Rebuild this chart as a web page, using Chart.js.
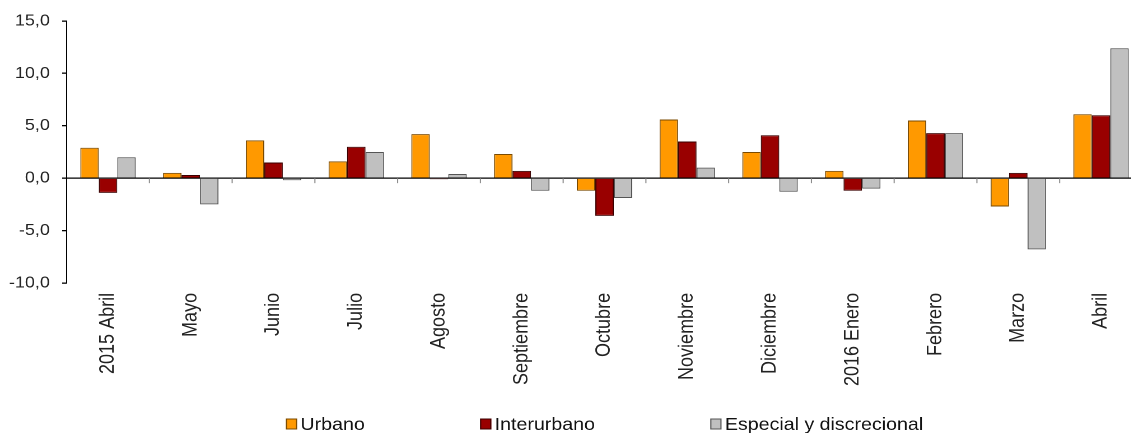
<!DOCTYPE html>
<html>
<head>
<meta charset="utf-8">
<script src="https://cdn.jsdelivr.net/npm/chart.js@4"></script>
<style>
  html, body { margin: 0; padding: 0; overflow: hidden; background: #fff; }
  #wrap { transform: scaleX(1.12); transform-origin: 0 0; width: 1020px; height: 433px; }
</style>
</head>
<body>
<div id="wrap"><canvas id="chart" width="1020" height="433"></canvas></div>
<script>
// meses (eje X)
const categories = ["2015 Abril", "Mayo", "Junio", "Julio", "Agosto", "Septiembre", "Octubre",
  "Noviembre", "Diciembre", "2016 Enero", "Febrero", "Marzo", "Abril"];

// variación por tipo de servicio
const urbano = [2.9, 0.5, 3.6, 1.6, 4.2, 2.3, -1.2, 5.6, 2.5, 0.7, 5.5, -2.7, 6.1];
const interurbano = [-1.4, 0.3, 1.5, 3.0, -0.1, 0.7, -3.6, 3.5, 4.1, -1.2, 4.3, 0.5, 6.0];
const especial = [2.0, -2.5, -0.2, 2.5, 0.4, -1.2, -1.9, 1.0, -1.3, -1.0, 4.3, -6.8, 12.4];

const yTicks = [-10, -5, 0, 5, 10, 15];

const FONT = "'Liberation Sans', Arial, sans-serif";

// marcas pequeñas entre categorías sobre la línea del cero
const zeroTicks = {
  id: "zeroTicks",
  afterDatasetsDraw(chart) {
    const x = chart.scales.x, y = chart.scales.y, ctx = chart.ctx;
    const y0 = y.getPixelForValue(0);
    ctx.save();
    ctx.strokeStyle = "#888";
    ctx.lineWidth = 1;
    for (let i = 0; i < categories.length - 1; i++) {
      const bx = (x.getPixelForValue(i) + x.getPixelForValue(i + 1)) / 2;
      ctx.beginPath();
      ctx.moveTo(bx, y0);
      ctx.lineTo(bx, y0 + 5);
      ctx.stroke();
    }
    ctx.restore();
  },
};

// leyenda dibujada a mano (espaciado amplio como en el original)
const bottomLegend = {
  id: "bottomLegend",
  afterDraw(chart) {
    const ctx = chart.ctx, area = chart.chartArea;
    const boxW = 10, boxH = 11, gap = 3, spacing = 103;
    ctx.save();
    ctx.font = "17.5px " + FONT;
    ctx.textBaseline = "middle";
    const items = chart.data.datasets.map((d) => ({
      text: d.label, fill: d.backgroundColor, stroke: d.borderColor,
      w: boxW + gap + ctx.measureText(d.label).width,
    }));
    const total = items.reduce((s, it) => s + it.w, 0) + spacing * (items.length - 1);
    let cx = (area.left + area.right) / 2 - total / 2;
    const cy = chart.height - 9;
    items.forEach((it) => {
      ctx.fillStyle = it.fill;
      ctx.fillRect(cx, cy - boxH / 2, boxW, boxH);
      ctx.strokeStyle = it.stroke;
      ctx.lineWidth = 1;
      ctx.strokeRect(cx + 0.5, cy - boxH / 2 + 0.5, boxW - 1, boxH - 1);
      ctx.fillStyle = "#111";
      ctx.fillText(it.text, cx + boxW + gap, cy + 1);
      cx += it.w + spacing;
    });
    ctx.restore();
  },
};

new Chart(document.getElementById("chart"), {
  type: "bar",
  data: {
    labels: categories,
    datasets: [
      { label: "Urbano", data: urbano, backgroundColor: "#FF9900", borderColor: "#7A4A00", borderWidth: 1 },
      { label: "Interurbano", data: interurbano, backgroundColor: "#990000", borderColor: "#3A0000", borderWidth: 1 },
      { label: "Especial y discrecional", data: especial, backgroundColor: "#C0C0C0", borderColor: "#555555", borderWidth: 1 },
    ],
  },
  options: {
    responsive: false,
    animation: false,
    devicePixelRatio: 2,
    layout: { padding: { top: 21, right: 0, bottom: 37, left: 0 } },
    datasets: { bar: { categoryPercentage: 0.67, barPercentage: 1.0 } },
    plugins: { legend: { display: false }, tooltip: { enabled: false } },
    scales: {
      x: {
        grid: { display: false, drawTicks: false },
        border: { display: false },
        ticks: {
          minRotation: 90, maxRotation: 90, padding: 10, autoSkip: false,
          color: "#222", font: { family: FONT, size: 18 },
        },
      },
      y: {
        min: -10, max: 15,
        afterBuildTicks: (scale) => { scale.ticks = yTicks.map((v) => ({ value: v })); },
        afterFit: (scale) => { scale.width = 59.5; },
        grid: {
          color: (c) => (c.tick && c.tick.value === 0 ? "#000" : "rgba(0,0,0,0)"),
          lineWidth: 1.3,
          tickColor: "#000",
          tickLength: 4,
        },
        border: { display: true, color: "#000", width: 1 },
        ticks: {
          padding: 11, color: "#222", font: { family: FONT, size: 16 },
          callback: (v) => v.toFixed(1).replace(".", ","),
        },
      },
    },
  },
  plugins: [zeroTicks, bottomLegend],
});
</script>
</body>
</html>
